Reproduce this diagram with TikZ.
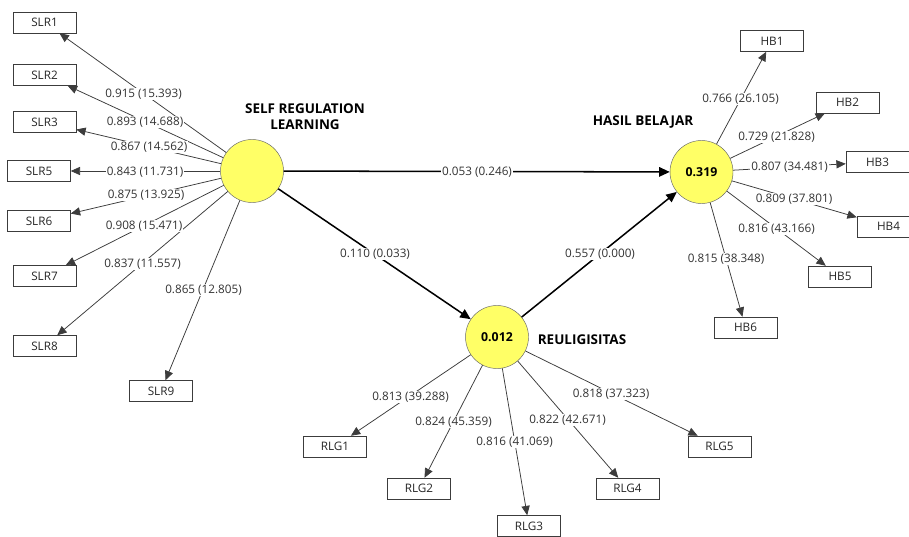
\documentclass[tikz,border=0pt]{standalone}
\usepackage{fontspec}
\setmainfont{Open Sans}
\usetikzlibrary{arrows.meta}
\definecolor{lvyellow}{RGB}{255,255,102}
\definecolor{lngray}{RGB}{60,60,60}
\begin{document}
\begin{tikzpicture}[x=0.03cm, y=-0.03cm,
    lv/.style={circle, draw=gray!80!black, fill=lvyellow, minimum size=1.89cm, inner sep=0pt, font=\fontsize{10.5}{12}\selectfont\bfseries},
    ind/.style={rectangle, draw=lngray, fill=white, minimum width=1.89cm, minimum height=0.63cm, inner sep=0pt, text=black!85},
    lvname/.style={font=\fontsize{11.5}{13.6}\selectfont\bfseries, align=center},
    lbl/.style={fill=white, inner sep=1pt, text=black!80},
    ld/.style={draw=lngray, line width=0.65pt, -{Triangle[length=8pt,width=7pt]}},
    pth/.style={draw=black, line width=1.3pt, -{Triangle[length=9pt,width=8pt]}}]
\useasboundingbox (0,0) rectangle (909,536);

% latent variables
\node[lv] (slr) at (252,171) {};
\node[lv] (hb) at (701.5,172) {0.319};
\node[lv] (rlg) at (497,337) {0.012};
\node[lvname] (slrname) at (305,117) {SELF REGULATION\\LEARNING};
\node[lvname] (hbname) at (643,122) {HASIL BELAJAR};
\node[lvname] (rlgname) at (582,340) {REULIGISITAS};

% indicators
\node[ind] (slr1) at (44.5,22.5) {SLR1};
\node[ind] (slr2) at (44.5,75) {SLR2};
\node[ind] (slr3) at (44.5,122) {SLR3};
\node[ind] (slr5) at (39,171) {SLR5};
\node[ind] (slr6) at (39,221) {SLR6};
\node[ind] (slr7) at (44.5,276) {SLR7};
\node[ind] (slr8) at (44.5,346) {SLR8};
\node[ind] (slr9) at (161,391) {SLR9};
\node[ind] (hb1) at (772,41) {HB1};
\node[ind] (hb2) at (847.5,102.5) {HB2};
\node[ind] (hb3) at (877.5,162) {HB3};
\node[ind] (hb4) at (888.5,226.5) {HB4};
\node[ind] (hb5) at (840,276.5) {HB5};
\node[ind] (hb6) at (745.5,327.5) {HB6};
\node[ind] (rlg1) at (335,446.5) {RLG1};
\node[ind] (rlg2) at (419,488.5) {RLG2};
\node[ind] (rlg3) at (529,526) {RLG3};
\node[ind] (rlg4) at (627.5,488.5) {RLG4};
\node[ind] (rlg5) at (719.5,446.5) {RLG5};

% loadings
\draw[ld] (slr) -- (slr1);
\draw[ld] (slr) -- (slr2);
\draw[ld] (slr) -- (slr3);
\draw[ld] (slr) -- (slr5);
\draw[ld] (slr) -- (slr6);
\draw[ld] (slr) -- (slr7);
\draw[ld] (slr) -- (slr8);
\draw[ld] (slr) -- (slr9);
\draw[ld] (hb) -- (hb1);
\draw[ld] (hb) -- (hb2);
\draw[ld] (hb) -- (hb3);
\draw[ld] (hb) -- (hb4);
\draw[ld] (hb) -- (hb5);
\draw[ld] (hb) -- (hb6);
\draw[ld] (rlg) -- (rlg1);
\draw[ld] (rlg) -- (rlg2);
\draw[ld] (rlg) -- (rlg3);
\draw[ld] (rlg) -- (rlg4);
\draw[ld] (rlg) -- (rlg5);

% paths
\draw[pth] (slr) -- (hb);
\draw[pth] (slr) -- (rlg);
\draw[pth] (rlg) -- (hb);

% weights
\node[lbl] (w1) at (143.5,94) {0.915 (15.393)};
\node[lbl] (w2) at (145,122) {0.893 (14.688)};
\node[lbl] (w3) at (149,147) {0.867 (14.562)};
\node[lbl] (w5) at (145,172) {0.843 (11.731)};
\node[lbl] (w6) at (146,195) {0.875 (13.925)};
\node[lbl] (w7) at (144,226) {0.908 (15.471)};
\node[lbl] (w8) at (142.5,264) {0.837 (11.557)};
\node[lbl] (w9) at (203.5,290) {0.865 (12.805)};
\node[lbl] (h1) at (740.5,99) {0.766 (26.105)};
\node[lbl] (h2) at (776.5,137) {0.729 (21.828)};
\node[lbl] (h3) at (789.5,167) {0.807 (34.481)};
\node[lbl] (h4) at (794,199) {0.809 (37.801)};
\node[lbl] (h5) at (776.5,229) {0.816 (43.166)};
\node[lbl] (h6) at (726,259) {0.815 (38.348)};
\node[lbl] (r1) at (410.5,397) {0.813 (39.288)};
\node[lbl] (r2) at (453.5,422) {0.824 (45.359)};
\node[lbl] (r3) at (514.5,442) {0.816 (41.069)};
\node[lbl] (r4) at (567.5,420) {0.822 (42.671)};
\node[lbl] (r5) at (611,394) {0.818 (37.323)};
\node[lbl] (p1) at (477,172) {0.053 (0.246)};
\node[lbl] (p2) at (375,254) {0.110 (0.033)};
\node[lbl] (p3) at (600,254) {0.557 (0.000)};
\end{tikzpicture}
\end{document}
